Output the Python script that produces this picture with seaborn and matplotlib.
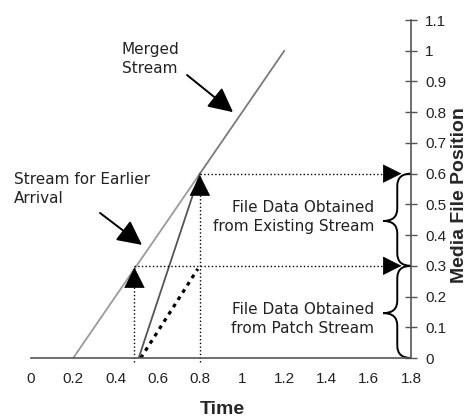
import numpy as np
import pandas as pd
import matplotlib
matplotlib.use('Agg')
import matplotlib.pyplot as plt
from matplotlib.path import Path
from matplotlib.patches import PathPatch
import seaborn as sns

# stream curves (time, media file position)
earlier_x = [0.2, 0.5, 0.7, 0.8]
earlier_y = [0.0, 0.3, 0.5, 0.6]
merged_x = [0.8, 0.9, 1.0, 1.1, 1.2]
merged_y = [0.6, 0.7, 0.8, 0.9, 1.0]
late_x = [0.51, 0.8]
late_y = [0.0, 0.6]
patch_x = [0.52, 0.79]
patch_y = [0.0, 0.29]

# guide points: join time and file position
join_x = [0.49, 0.8]
join_y = [0.3, 0.6]
brace_spans = [(0.0, 0.3), (0.3, 0.6)]

xticks = np.arange(0, 1.81, 0.2)
yticks = np.arange(0, 1.11, 0.1)

sns.set_style('white')
plt.rcParams['font.family'] = ['DejaVu Sans']

fig = plt.figure(figsize=(4.71, 4.19), dpi=100)
ax = fig.add_axes([31/471, 61/419, 380/471, 338/419])

sns.lineplot(x=earlier_x, y=earlier_y, ax=ax, color='#9a9a9a', lw=1.3, sort=False)
sns.lineplot(x=merged_x, y=merged_y, ax=ax, color='#7a7a7a', lw=1.3, sort=False)
sns.lineplot(x=late_x, y=late_y, ax=ax, color='#555555', lw=1.3, sort=False)
ax.plot(patch_x, patch_y, color='black', lw=2.3, ls=(0, (1.2, 1.5)))

ax.set_xlim(0, 1.8)
ax.set_ylim(0, 1.1)

# dotted guide lines with solid heads
head = dict(arrowstyle='-|>,head_length=1.0,head_width=0.5', color='black',
            lw=0.5, shrinkA=0, shrinkB=0)
for jx, jy in zip(join_x, join_y):
    ax.plot([jx, jx], [-0.012, jy], color='black', lw=1.0, ls=':', clip_on=False)
    ax.plot([jx, 1.72], [jy, jy], color='black', lw=1.0, ls=':', clip_on=False)
    ax.annotate('', xy=(jx, jy - 0.005), xytext=(jx, jy - 0.03),
                arrowprops=dict(head, mutation_scale=14), annotation_clip=False)
    ax.annotate('', xy=(1.755, jy), xytext=(1.70, jy),
                arrowprops=dict(head, mutation_scale=12.5), annotation_clip=False)

# braces on the right
for y0, y1 in brace_spans:
    xe, xb, xt = 1.8, 1.735, 1.668
    ym = (y0 + y1) / 2 - 0.004
    r = 0.04
    verts = [(xe, y1), (xb, y1), (xb, y1 - r), (xb, ym + r),
             (xb, ym), (xt, ym), (xb, ym), (xb, ym - r),
             (xb, y0 + r), (xb, y0), (xe, y0)]
    codes = [Path.MOVETO, Path.CURVE3, Path.CURVE3, Path.LINETO,
             Path.CURVE3, Path.CURVE3, Path.CURVE3, Path.CURVE3,
             Path.LINETO, Path.CURVE3, Path.CURVE3]
    ax.add_patch(PathPatch(Path(verts, codes), fill=False, lw=1.4,
                           color='black', clip_on=False))

solid = dict(arrowstyle='-|>,head_length=1.0,head_width=0.5', color='black',
             lw=1.4, shrinkA=0, shrinkB=0, mutation_scale=15)
ax.annotate('', xy=(0.957, 0.80), xytext=(0.739, 0.921), arrowprops=solid)
ax.annotate('', xy=(0.526, 0.368), xytext=(0.327, 0.472), arrowprops=solid)

tfont = dict(fontsize=11, color='#222222')
ax.text(0.43, 1.03, 'Merged\nStream', ha='left', va='top', linespacing=1.35, **tfont)
ax.text(-0.08, 0.605, 'Stream for Earlier\nArrival', ha='left', va='top',
        linespacing=1.35, **tfont)
ax.text(1.625, 0.46, 'File Data Obtained\nfrom Existing Stream', ha='right',
        va='center', linespacing=1.35, **tfont)
ax.text(1.625, 0.126, 'File Data Obtained\nfrom Patch Stream', ha='right',
        va='center', linespacing=1.35, **tfont)

# axes: bottom and right only
for s in ['top', 'left']:
    ax.spines[s].set_visible(False)
for s in ['bottom', 'right']:
    ax.spines[s].set_color('#555555')
    ax.spines[s].set_linewidth(1.2)
ax.yaxis.tick_right()
ax.set_xticks(xticks)
ax.set_yticks(yticks)
ax.set_xticklabels([f'{v:g}' for v in np.round(xticks, 1)])
ax.set_yticklabels([f'{v:g}' for v in np.round(yticks, 1)])
ax.tick_params(axis='x', direction='out', length=4, width=1, color='#555555',
               pad=6, labelcolor='#222222')
ax.tick_params(axis='y', direction='inout', length=8, width=1, color='#555555',
               pad=6, labelcolor='#222222')
for lab in ax.get_xticklabels() + ax.get_yticklabels():
    lab.set_family('Liberation Sans')
    lab.set_fontsize(11)

# axis titles placed like the original
fig.text(222/471, 1 - 409/419, 'Time', ha='center', va='center', fontsize=14,
         fontweight='bold', family='Liberation Sans')
fig.text(460/471, 1 - 195/419, 'Media File Position', ha='center', va='center',
         rotation=90, fontsize=14, fontweight='bold', family='Liberation Sans')

fig.savefig('out.png', dpi=100)
